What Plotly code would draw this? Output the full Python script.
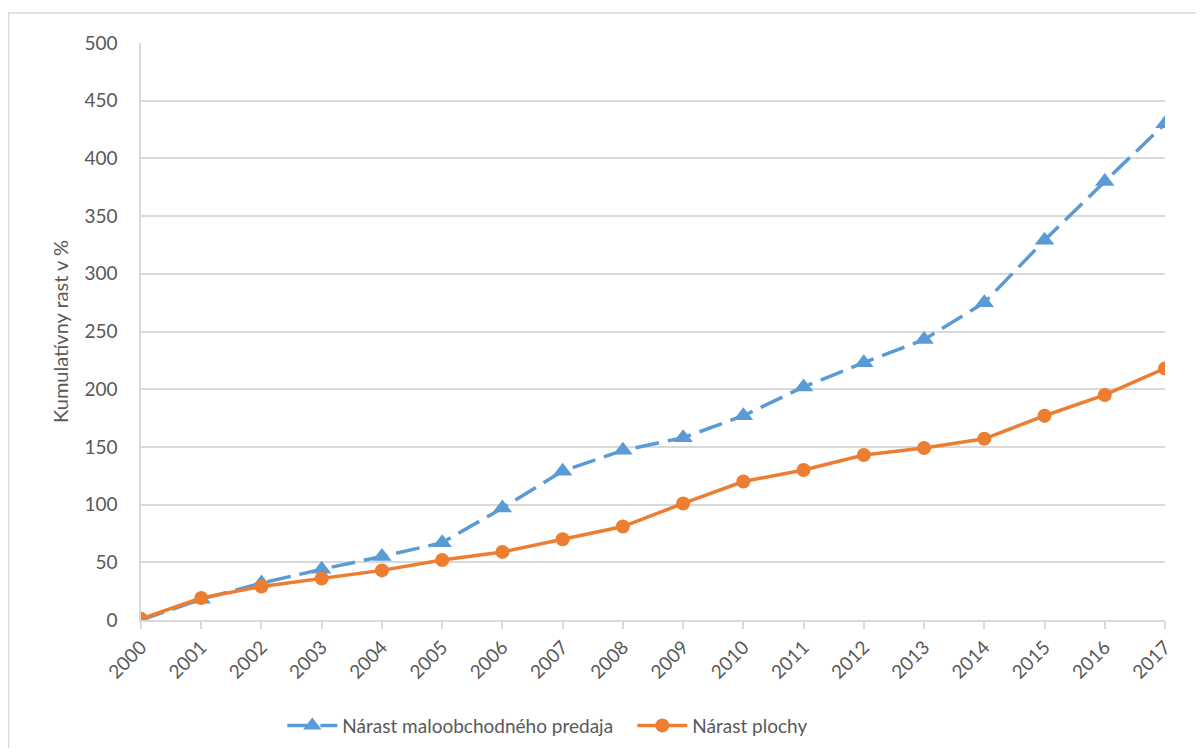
import plotly.graph_objects as go

years = list(range(2000, 2018))
year_labels = [str(y) for y in years]
retail_growth = [0, 18, 32, 44, 55, 67, 97, 129, 147, 158, 177, 202, 223, 243, 275, 329, 380, 430]
area_growth = [1, 19, 29, 36, 43, 52, 59, 70, 81, 101, 120, 130, 143, 149, 157, 177, 195, 218]
y_ticks = list(range(0, 501, 50))

blue = "#5B9BD5"
orange = "#ED7D31"
gray_text = "#595959"
font_family = "Lato, Open Sans, sans-serif"

fig = go.Figure()
fig.add_trace(go.Scatter(
    x=years, y=retail_growth, name="Nárast maloobchodného predaja",
    mode="lines+markers",
    line=dict(color=blue, width=3.5, dash="24px,9px"),
    marker=dict(symbol="triangle-up", size=17, color=blue),
))
fig.add_trace(go.Scatter(
    x=years, y=area_growth, name="Nárast plochy",
    mode="lines+markers",
    line=dict(color=orange, width=3.5),
    marker=dict(symbol="circle", size=14, color=orange),
))

fig.update_layout(
    width=1188, height=740,
    margin=dict(l=133, r=31, t=35, b=128, autoexpand=False),
    paper_bgcolor="white", plot_bgcolor="white",
    font=dict(family=font_family, color=gray_text, size=18),
    showlegend=True,
    legend=dict(orientation="h", x=0.138, xanchor="left", y=-0.15, yanchor="top",
                font=dict(size=19, color=gray_text), itemwidth=50,
                entrywidth=285, entrywidthmode="pixels",
                traceorder="normal"),
    shapes=[dict(type="rect", xref="paper", yref="paper",
                 x0=-0.1294, x1=1.2, y0=-0.5, y1=1.052,
                 line=dict(color="#D9D9D9", width=1.5), fillcolor="rgba(0,0,0,0)", layer="below")],
)
fig.update_xaxes(
    range=[2000, 2017], tickmode="array", tickvals=years, ticktext=year_labels,
    tickangle=-45, showgrid=False, showline=True, linecolor="#D9D9D9", linewidth=1.5,
    ticks="outside", ticklen=7, tickcolor="#D9D9D9", tickwidth=1.5,
    tickfont=dict(size=19, color=gray_text), zeroline=False, automargin=False,
)
fig.update_yaxes(
    range=[0, 500], tickmode="array", tickvals=y_ticks,
    showgrid=True, gridcolor="#D9D9D9", gridwidth=1.5,
    showline=True, linecolor="#D9D9D9", linewidth=1.5, zeroline=False,
    ticks="", ticklen=0, ticklabelstandoff=18, automargin=False,
    tickfont=dict(size=19, color=gray_text),
    title=dict(text="Kumulatívny rast v %", font=dict(size=20, color=gray_text), standoff=10),
)

fig.write_html("out.html")
